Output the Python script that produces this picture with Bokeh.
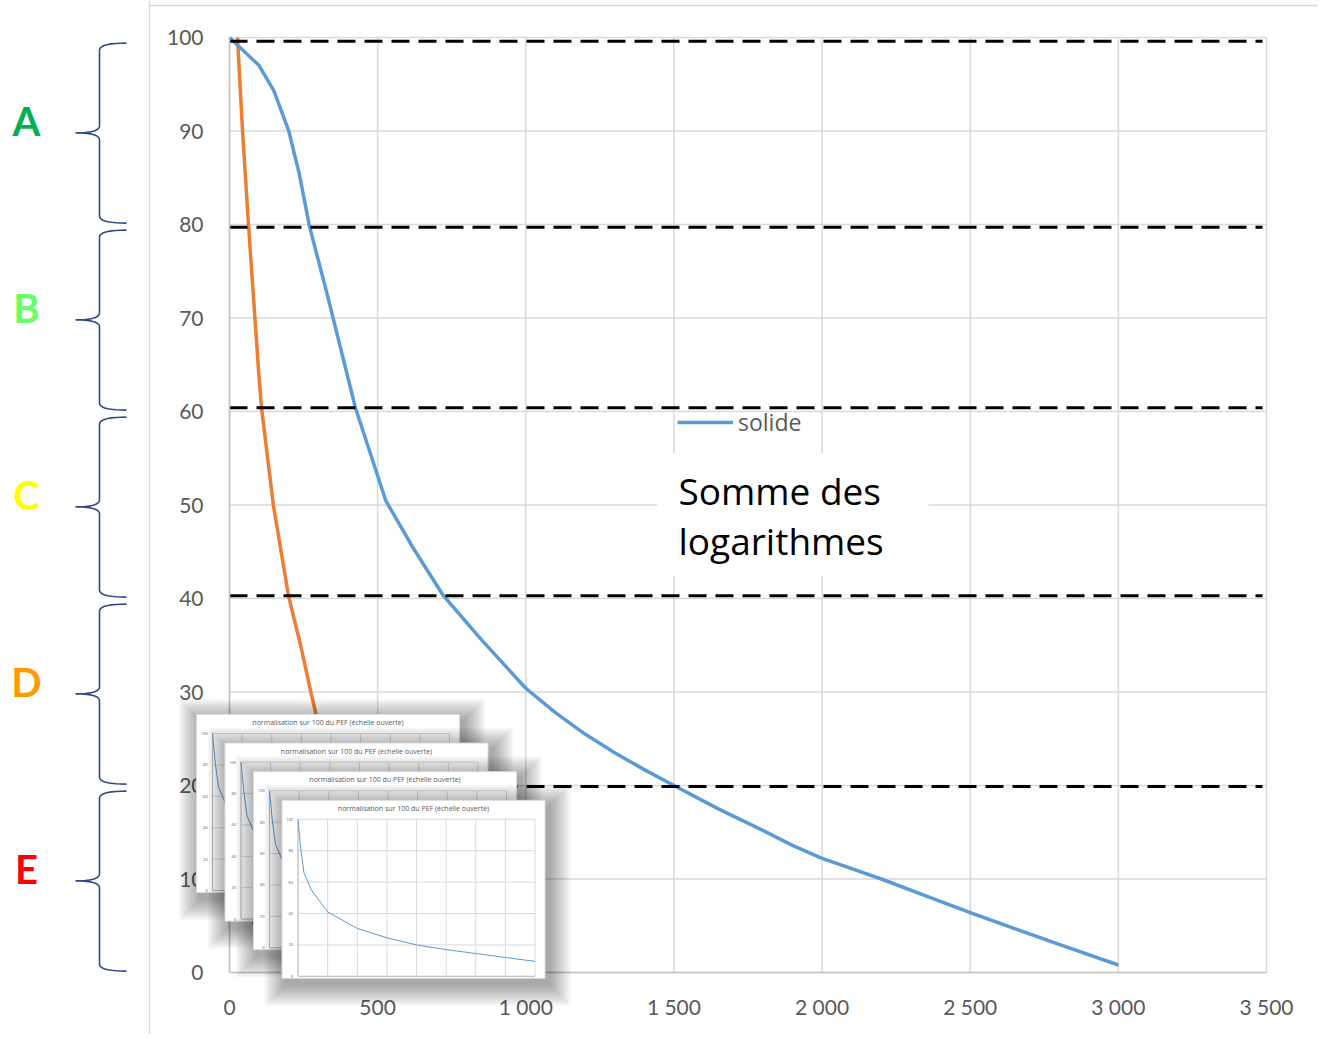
import numpy as np
from bokeh.plotting import figure
from bokeh.layouts import row
from bokeh.models import (Range1d, LinearAxis, FixedTicker, Legend, LegendItem,
                          Span, Label, ColumnDataSource)
from bokeh.core.properties import value
from bokeh.embed import file_html
from bokeh.resources import INLINE

# ---------------- data ----------------
classes = ["A", "B", "C", "D", "E"]
class_colors = ["#00B050", "#66FF66", "#FFFF00", "#FF9900", "#FF0000"]
class_upper = [100, 80, 60, 40, 20]
class_lower = [80, 60, 40, 20, 0]
threshold_y = [99.6, 79.7, 60.4, 40.3, 19.9]

blue_x = [0, 100, 150, 200, 235, 270, 330, 425, 527, 545, 620, 722, 850, 1000, 1100,
          1200, 1300, 1400, 1500, 1650, 1800, 1900, 2000, 2100, 2200, 2350, 2500, 2650,
          2800, 3000]
blue_y = [100, 97, 94.3, 90, 85.5, 79.8, 72.5, 60.4, 50.5, 49.5, 45.4, 40.3, 35.6, 30.4,
          27.8, 25.5, 23.5, 21.7, 20, 17.5, 15.2, 13.6, 12.2, 11.1, 10, 8.2, 6.4, 4.7,
          3.0, 0.8]

orange_x = [27, 44, 64, 98, 108, 148, 199, 240, 273, 300, 330]
orange_y = [100, 90, 80, 64.4, 60.4, 50, 40.3, 35, 30.2, 26.5, 22.5]

red_x = [70, 85, 98]
red_y = [9, 5, 2.4]

x_ticks = [0, 500, 1000, 1500, 2000, 2500, 3000, 3500]
x_tick_labels = ["0", "500", "1 000", "1 500", "2 000", "2 500", "3 000", "3 500"]
y_ticks = [0, 10, 20, 30, 40, 50, 60, 70, 80, 90, 100]

thumb_title = "normalisation sur 100 du PEF (échelle ouverte)"
thumb_x = [0, 0.09, 0.2, 0.45, 1, 2, 3, 4, 5, 6, 7, 8]
thumb_y = [100, 82, 66, 55, 41, 30.5, 24.5, 20, 17, 14.5, 12, 9.5]
thumb_cols = [0, 1, 2, 3, 4, 5, 6, 7, 8]
thumb_yticks = [0, 20, 40, 60, 80, 100]

# ---------------- page calibration (layout only) ----------------
X0, SX = 229.0, 1037.0 / 3500.0
Y0, SY = 972.0, 9.35


def dx(px):
    return (px - X0) / SX


def dy(py):
    return (Y0 - py) / SY


FONT = "Lato"
LABEL_COLOR = "#595959"
GRID = "#d9d9d9"

LEFT_W, MAIN_W, H = 148, 1170, 1034
p = figure(width=MAIN_W, height=H,
           x_range=Range1d(dx(LEFT_W), dx(LEFT_W + MAIN_W)), y_range=Range1d(dy(H), dy(0)),
           x_axis_type=None, y_axis_type=None, toolbar_location=None,
           output_backend="svg", min_border=0, outline_line_color=None)

# chart border (Excel chart area)
p.add_layout(Span(location=dx(149), dimension="height", line_color="#d9d9d9", line_width=1.5))
p.add_layout(Span(location=dy(5), dimension="width", line_color="#d9d9d9", line_width=1.5))

# grid lines
p.segment(x0=x_ticks, x1=x_ticks, y0=min(y_ticks), y1=max(y_ticks), line_color=GRID, line_width=1.5)
p.segment(x0=min(x_ticks), x1=max(x_ticks), y0=y_ticks, y1=y_ticks, line_color=GRID, line_width=1.5)

# axes
yax = LinearAxis(fixed_location=0, ticker=FixedTicker(ticks=y_ticks), bounds=(0, 100),
                 axis_line_color="#c4c4c4", axis_line_width=1.5,
                 major_tick_line_color=None, minor_tick_line_color=None,
                 major_label_standoff=20, major_label_text_font=FONT,
                 major_label_text_font_size="21px", major_label_text_color=LABEL_COLOR)
p.add_layout(yax, "left")
xax = LinearAxis(fixed_location=0, ticker=FixedTicker(ticks=x_ticks), bounds=(0, 3500),
                 major_label_overrides=dict(zip(x_ticks, x_tick_labels)),
                 axis_line_color="#c4c4c4", axis_line_width=1.5,
                 major_tick_line_color=None, minor_tick_line_color=None,
                 major_label_standoff=15, major_label_text_font=FONT,
                 major_label_text_font_size="21px", major_label_text_color=LABEL_COLOR)
p.add_layout(xax, "below")

# series
p.line(red_x, red_y, line_color="#C00000", line_width=3.5)
p.line(orange_x, orange_y, line_color="#ED7D31", line_width=3.5, line_join="round")
blue_r = p.line(blue_x, blue_y, line_color="#5B9BD5", line_width=3.5, line_join="round")

# class thresholds
p.segment(x0=0, x1=dx(1262), y0=threshold_y, y1=threshold_y,
          line_color="black", line_width=3, line_dash="18 9")

# legend
legend = Legend(items=[LegendItem(label="solide", renderers=[blue_r])],
                location=(677 - LEFT_W, H - 438), padding=0, margin=0,
                glyph_width=56, glyph_height=22, label_height=22, label_standoff=5,
                label_text_font="Open Sans", label_text_font_size="23px",
                label_text_color=LABEL_COLOR, border_line_color=None,
                background_fill_alpha=0)
p.add_layout(legend)

# text box
p.quad(left=dx(657), right=dx(928), top=dy(453), bottom=dy(575),
       fill_color="white", line_color=None)
p.add_layout(Label(x=dx(678), y=dy(490), text="Somme des", text_font="Open Sans",
                   text_font_size="37px", text_color="black", text_baseline="alphabetic"))
p.add_layout(Label(x=dx(678), y=dy(540), text="logarithmes", text_font="Open Sans",
                   text_font_size="37px", text_color="black", text_baseline="alphabetic"))

# stacked thumbnails (pasted screenshots)
TW, TH = 263, 178
for i in range(4):
    L = 196 + i * 28.5
    T = 714 + i * 28.6
    for k in range(12, 0, -1):
        e = 1.8 * k
        p.quad(left=dx(L - e + 4), right=dx(L + TW + e + 4), top=dy(T - e + 6),
               bottom=dy(T + TH + e + 6), fill_color="#000000", fill_alpha=0.03,
               line_color=None, level="overlay")
    p.quad(left=dx(L), right=dx(L + TW), top=dy(T), bottom=dy(T + TH),
           fill_color="white", line_color="#dcdcdc", line_width=1, level="overlay")
    p.text(x=[dx(L + TW / 2)], y=[dy(T + 8)], text=[thumb_title], text_font=value("Open Sans"),
           text_font_size="7px", text_color=LABEL_COLOR, text_align="center",
           text_baseline="middle", level="overlay")
    PL, PR, PT, PB = L + 16, L + 253, T + 19, T + 176

    def mx(t):
        return [dx(PL + v / 8.0 * (PR - PL)) for v in t]

    def my(t):
        return [dy(PB - v / 100.0 * (PB - PT)) for v in t]

    p.segment(x0=mx(thumb_cols), x1=mx(thumb_cols), y0=dy(PB), y1=dy(PT),
              line_color="#d9d9d9", line_width=1, level="overlay")
    p.segment(x0=dx(PL), x1=dx(PR), y0=my(thumb_yticks), y1=my(thumb_yticks),
              line_color="#d9d9d9", line_width=1, level="overlay")
    p.segment(x0=[dx(PL), dx(PL)], x1=[dx(PL), dx(PR)], y0=[dy(PB), dy(PB)], y1=[dy(PT), dy(PB)],
              line_color="#bfbfbf", line_width=1, level="overlay")
    p.text(x=[dx(PL - 5)] * len(thumb_yticks), y=my(thumb_yticks),
           text=[str(v) for v in thumb_yticks], text_font=value("Open Sans"),
           text_font_size="4px", text_color=LABEL_COLOR, text_align="right",
           text_baseline="middle", level="overlay")
    p.line(mx(thumb_x), my(thumb_y), line_color="#5B9BD5", line_width=1, level="overlay")

# ---------------- left panel: classes and braces ----------------
pl = figure(width=LEFT_W, height=H, x_range=Range1d(0, LEFT_W), y_range=p.y_range,
            x_axis_type=None, y_axis_type=None, toolbar_location=None,
            output_backend="svg", min_border=0, outline_line_color=None)
pl.grid.visible = False


def qbez(a, c, b, n=10):
    t = np.linspace(0, 1, n)
    x = (1 - t) ** 2 * a[0] + 2 * (1 - t) * t * c[0] + t ** 2 * b[0]
    y = (1 - t) ** 2 * a[1] + 2 * (1 - t) * t * c[1] + t ** 2 * b[1]
    return list(x), list(y)


SPINE, TIP, END, R = 99, 75, 126, 7
bxs, bys = [], []
for up, lo in zip(class_upper, class_lower):
    yt = Y0 - (up - 0.6) * SY
    yb = Y0 - (lo + 0.15) * SY
    ym = Y0 - ((up + lo) / 2 - 0.2) * SY
    xs, ys = [], []
    for seg in [((END, yt), (SPINE, yt), (SPINE, yt + R)),
                ((SPINE, ym - R), (SPINE, ym), (TIP, ym)),
                ((TIP, ym), (SPINE, ym), (SPINE, ym + R)),
                ((SPINE, yb - R), (SPINE, yb), (END, yb))]:
        sx, sy = qbez(*seg)
        xs += sx
        ys += sy
    bxs.append(xs)
    bys.append([dy(v) for v in ys])
pl.multi_line(bxs, bys, line_color="#2E4A86", line_width=1.6)

letters = ColumnDataSource(dict(
    x=[26] * len(classes),
    y=[(u + l) / 2 for u, l in zip(class_upper, class_lower)],
    t=classes, c=class_colors))
pl.text(x="x", y="y", text="t", text_color="c", source=letters, y_offset=-10,
        text_font=value("Lato"), text_font_style="bold", text_font_size="40px",
        text_align="center", text_baseline="middle")

layout = row(pl, p)
open("out.html", "w").write(file_html(layout, INLINE))
